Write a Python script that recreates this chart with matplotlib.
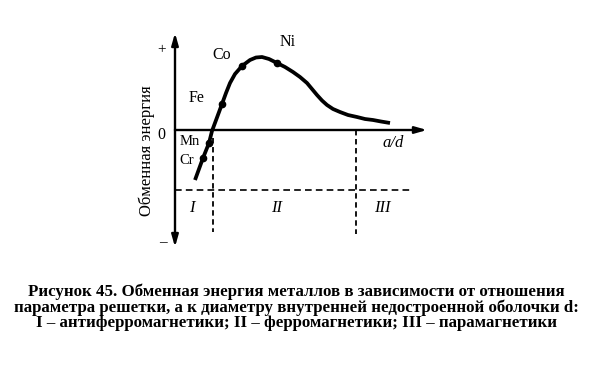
import matplotlib
matplotlib.use("Agg")
import matplotlib.pyplot as plt

plt.rcParams['font.family'] = ['Liberation Serif', 'DejaVu Serif']

# кривая обменной энергии (a/d, энергия), условные единицы
curve_x = [0.40, 0.56, 0.68, 0.74, 0.84, 0.94, 1.02, 1.10, 1.20, 1.34, 1.50,
           1.62, 1.74, 1.88, 2.04, 2.20, 2.36, 2.50, 2.64, 2.74, 2.84, 2.94,
           3.04, 3.16, 3.30, 3.46, 3.64, 3.80, 3.96, 4.12, 4.30]
curve_y = [-1.00, -0.56, -0.26, -0.02, 0.25, 0.52, 0.74, 0.94, 1.12, 1.28, 1.40,
           1.45, 1.46, 1.42, 1.34, 1.26, 1.16, 1.06, 0.94, 0.82, 0.70, 0.59,
           0.50, 0.42, 0.36, 0.30, 0.26, 0.22, 0.20, 0.17, 0.14]

metals = ["Cr", "Mn", "Fe", "Co", "Ni"]
metal_x = [0.56, 0.68, 0.94, 1.34, 2.04]
metal_y = [-0.56, -0.26, 0.52, 1.28, 1.34]
label_pos = [(0.24, -0.60), (0.30, -0.22), (0.44, 0.64), (0.94, 1.50), (2.26, 1.76)]
label_size = [10.5, 10.5, 11.5, 11.5, 11.5]

bounds_x = [0.76, 3.62]
level_y = -1.2
regions = ["I", "II", "III"]
regions_x = [0.34, 2.04, 4.14]
regions_y = [-1.56, -1.56, -1.56]

caption = ("Рисунок 45. Обменная энергия металлов в зависимости от отношения\n"
           "параметра решетки, а к диаметру внутренней недостроенной оболочки d:\n"
           "I – антиферромагнетики; II – ферромагнетики; III – парамагнетики")

fig = plt.figure(figsize=(5.92, 3.86), dpi=100)
ax = fig.add_axes([0, 0, 1, 1])
ax.set_xlim(-3.5, 8.34)
ax.set_ylim(-5.12, 2.6)
ax.axis('off')

arrow = dict(arrowstyle='-|>,head_length=0.7,head_width=0.2', color='black', lw=1.7,
             shrinkA=0, shrinkB=0)
# оси
ax.annotate('', xy=(0, 1.94), xytext=(0, 0), arrowprops=arrow)
ax.annotate('', xy=(0, -2.34), xytext=(0, 0), arrowprops=arrow)
ax.annotate('', xy=(5.04, 0), xytext=(0, 0), arrowprops=arrow)

# пунктирные границы
ax.plot([0, 4.7], [level_y, level_y], color='black', lw=1.2, ls=(0, (4, 2.5)))
ax.plot([bounds_x[0], bounds_x[0]], [-0.16, -2.04], color='black', lw=1.3, ls=(0, (3, 2)))
ax.plot([bounds_x[1], bounds_x[1]], [0, -2.08], color='black', lw=1.3, ls=(0, (3, 2)))

ax.plot(curve_x, curve_y, color='black', lw=2.7, solid_capstyle='butt',
        solid_joinstyle='round')
ax.plot(metal_x, metal_y, 'o', color='black', ms=4.5)

for name, (lx, ly), fs in zip(metals, label_pos, label_size):
    ax.text(lx, ly, name, fontsize=fs, ha='center', va='center')

for r, rx, ry in zip(regions, regions_x, regions_y):
    ax.text(rx, ry, r, fontsize=12, style='italic', ha='center', va='center')

ax.text(-0.26, 1.60, '+', fontsize=11, ha='center', va='center')
ax.text(-0.28, -0.10, '0', fontsize=11.5, ha='center', va='center')
ax.text(-0.24, -2.26, '–', fontsize=11, ha='center', va='center')
ax.text(4.36, -0.26, 'a/d', fontsize=12, style='italic', ha='center', va='center')
ax.text(-0.56, -0.42, 'Обменная энергия', fontsize=12, rotation=90,
        ha='center', va='center')

fig.text(0.5, 0.204, caption, fontsize=12.2, fontweight='bold', ha='center',
         va='center', linespacing=0.97)

fig.savefig('out.png', dpi=100)
